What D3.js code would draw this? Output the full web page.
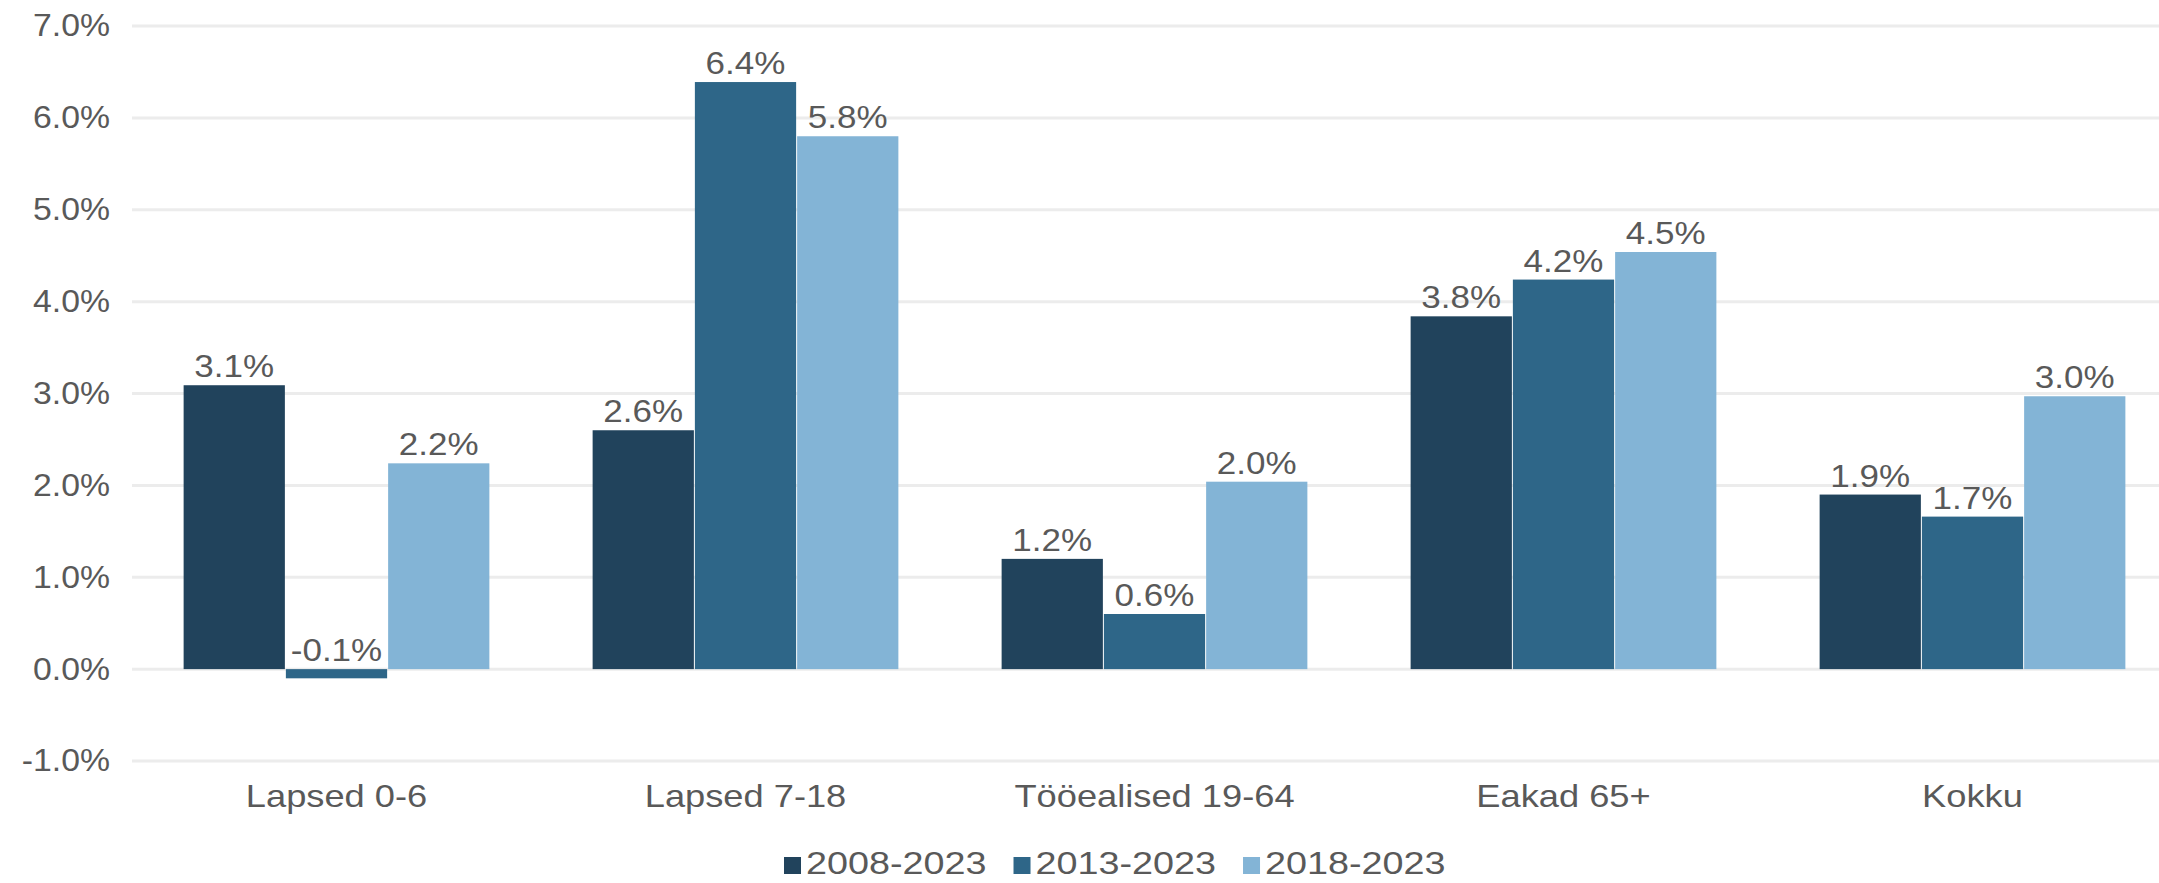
<!DOCTYPE html>
<html>
<head>
<meta charset="utf-8">
<script src="https://cdn.jsdelivr.net/npm/d3@7"></script>
<style>
  html, body { margin: 0; padding: 0; background: #fff; }
  svg { display: block; font-family: "Liberation Sans", Arial, sans-serif; }
</style>
</head>
<body>
<svg id="chart" width="2159" height="883"></svg>
<script>
const categories = ["Lapsed 0-6", "Lapsed 7-18", "Tööealised 19-64", "Eakad 65+", "Kokku"];
const seriesNames = ["2008-2023", "2013-2023", "2018-2023"];
const s2008 = [3.09, 2.60, 1.20, 3.84, 1.90];
const s2013 = [-0.10, 6.39, 0.60, 4.24, 1.66];
const s2018 = [2.24, 5.80, 2.04, 4.54, 2.97];
const yTicks = [-1, 0, 1, 2, 3, 4, 5, 6, 7];
const colors = ["#21435c", "#2e6688", "#83b4d6"];

const seriesValues = [s2008, s2013, s2018];
const svg = d3.select("#chart");
const W = 2159, H = 883;
const plotLeft = 132, plotRight = 2177;
const SX = 1.17; // horizontal stretch of the reference's text
const textColor = "#595959";

const y = d3.scaleLinear().domain([-1, 7]).range([761, 26]);
const x0 = d3.scaleBand().domain(categories).range([plotLeft, plotRight])
  .paddingInner(0.25).paddingOuter(0.125);
const x1 = d3.scaleBand().domain(seriesNames).range([0, x0.bandwidth()]).padding(0);

// gridlines
svg.append("g").selectAll("line").data(yTicks).join("line")
  .attr("x1", plotLeft).attr("x2", W)
  .attr("y1", d => y(d)).attr("y2", d => y(d))
  .attr("stroke", "#ececec").attr("stroke-width", 3);

// y axis labels
const yAxis = d3.axisLeft(y).tickValues(yTicks).tickSize(0).tickPadding(0)
  .tickFormat(d => d.toFixed(1) + "%");
const yg = svg.append("g").attr("transform", "translate(110,0)").call(yAxis);
yg.select(".domain").remove();
yg.selectAll("text").attr("font-size", 31).attr("fill", textColor)
  .attr("font-family", "Liberation Sans, Arial, sans-serif")
  .attr("transform", "scale(1.09,1)");

// bars
const rows = categories.map((c, i) => ({ cat: c, vals: seriesNames.map((s, j) => ({ s, j, v: seriesValues[j][i] })) }));
const groups = svg.append("g").selectAll("g").data(rows).join("g")
  .attr("transform", d => `translate(${x0(d.cat)},0)`);
groups.selectAll("rect").data(d => d.vals).join("rect")
  .attr("x", d => x1(d.s) + 0.5)
  .attr("width", x1.bandwidth() - 1)
  .attr("y", d => y(Math.max(0, d.v)))
  .attr("height", d => Math.abs(y(d.v) - y(0)))
  .attr("fill", d => colors[d.j]);

groups.selectAll("text").data(d => d.vals).join("text")
  .attr("transform", d => `translate(${x1(d.s) + x1.bandwidth() / 2},${Math.min(y(d.v), y(0)) - 8}) scale(1.13,1)`)
  .attr("text-anchor", "middle")
  .attr("font-size", 31).attr("fill", textColor)
  .text(d => d.v.toFixed(1) + "%");

// x axis labels
const xAxis = d3.axisBottom(x0).tickSize(0).tickPadding(0);
const xg = svg.append("g").attr("transform", "translate(0,785)").call(xAxis);
xg.select(".domain").remove();
xg.selectAll("text").attr("font-size", 31).attr("fill", textColor)
  .attr("font-family", "Liberation Sans, Arial, sans-serif")
  .attr("transform", `scale(${SX},1)`);

// legend
const legend = svg.append("g");
let lx = 784;
seriesNames.forEach((s, j) => {
  const g = legend.append("g").attr("transform", `translate(${lx},0)`);
  g.append("rect").attr("x", 0).attr("y", 857).attr("width", 17).attr("height", 17).attr("fill", colors[j]);
  const t = g.append("text").attr("transform", "translate(22,874) scale(1.18,1)")
    .attr("font-size", 32).attr("fill", textColor).text(s);
  const w = t.node().getComputedTextLength() * 1.18;
  lx += 22 + w + 27;
});
</script>
</body>
</html>
